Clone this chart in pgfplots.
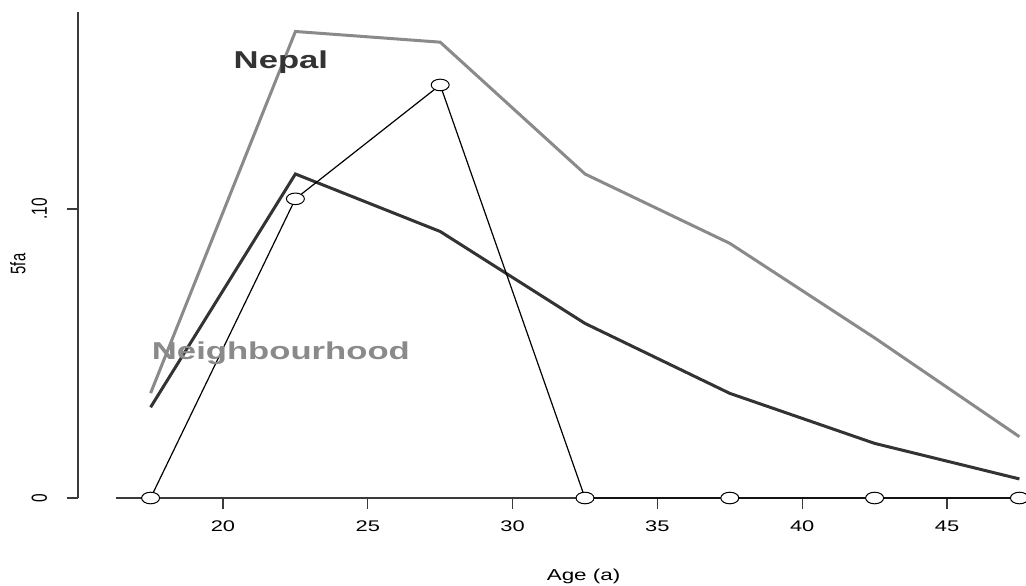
\documentclass[border=0pt]{standalone}
\usepackage{fontspec}
\setmainfont{Liberation Sans}[FakeStretch=1.42]
\newfontfamily\plainsans{Liberation Sans}
\usepackage{graphicx}
\usepackage{pgfplots}
\pgfplotsset{compat=1.18}

\definecolor{nepalgray}{HTML}{8A8A8A}
\definecolor{darkline}{HTML}{333333}
\definecolor{axisgray}{HTML}{3A3A3A}

% upright text turned on its side, widened across the page like the rest
\newcommand\vstr[1]{\scalebox{1}[1.42]{\plainsans #1}}

\begin{document}
\begin{tikzpicture}
\useasboundingbox (0,0) rectangle (513pt,292.5pt);
\begin{axis}[
  at={(39.1pt,43.5pt)}, anchor=south west,
  scale only axis, width=506.8pt, height=242.8pt,
  xmin=15, xmax=50, ymin=0, ymax=0.168,
  clip=false,
  axis x line*=bottom, axis y line*=left,
  x axis line style={draw=none},
  y axis line style={draw=axisgray, line width=0.8pt},
  tick align=outside, major tick length=5.5pt,
  every tick/.style={axisgray, line width=0.6pt},
  xtick={20,25,30,35,40,45},
  ytick={0,0.1}, yticklabels={\vstr{0},\vstr{.10}},
  /pgf/number format/assume math mode=true,
  tick label style={font=\fontsize{7.7}{9}\selectfont, text=black},
  xticklabel style={yshift=-2.5pt},
  yticklabel style={xshift=-6.5pt, rotate=90, anchor=south},
  xlabel={Age (a)},
  xlabel style={at={(axis description cs:0.4986,-0.161)}, anchor=center, font=\fontsize{7.9}{9}\selectfont},
  ylabel={\vstr{5fa}},
  ylabel style={at={(axis description cs:-0.0594,0.482)}, anchor=center, font=\fontsize{7.4}{9}\selectfont},
]
% horizontal axis line, drawn under the series
\draw[axisgray, line width=0.55pt] (axis cs:16.3,0) -- (axis cs:48.7,0);

% Nepal
\addplot[nepalgray, line width=1.5pt, mark=none] coordinates {
  (17.5,0.0363) (22.5,0.1614) (27.5,0.1577) (32.5,0.1121)
  (37.5,0.0881) (42.5,0.0554) (47.5,0.0212)};

% Neighbourhood
\addplot[darkline, line width=1.5pt, mark=none] coordinates {
  (17.5,0.0314) (22.5,0.1121) (27.5,0.0922) (32.5,0.0604)
  (37.5,0.0362) (42.5,0.0189) (47.5,0.0066)};

% individual household
\addplot[black, line width=0.6pt, mark=*, mark size=2.9pt,
  mark options={fill=white, draw=black, line width=0.5pt, xscale=1.55}] coordinates {
  (17.5,0) (22.5,0.1035) (27.5,0.1429) (32.5,0)
  (37.5,0) (42.5,0) (47.5,0)};

\node[font=\fontsize{12.2}{14}\selectfont\bfseries, text=darkline] at (axis cs:22.0,0.1507) {Nepal};
\node[font=\fontsize{12.2}{14}\selectfont\bfseries, text=nepalgray] at (axis cs:22.0,0.0502) {Neighbourhood};
\end{axis}
\end{tikzpicture}
\end{document}
